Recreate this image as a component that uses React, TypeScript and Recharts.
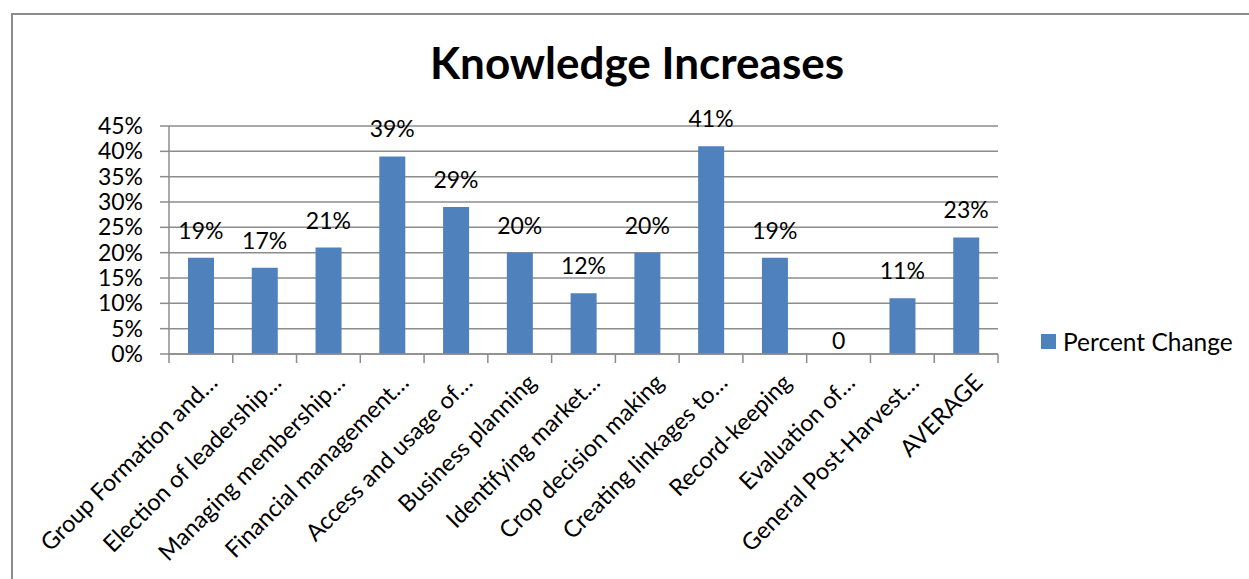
import React from 'react';
import { ComposedChart, Bar, Line, XAxis, YAxis, CartesianGrid, LabelList } from 'recharts';

const categories = [
  'Group Formation and…',
  'Election of leadership…',
  'Managing membership…',
  'Financial management…',
  'Access and usage of…',
  'Business planning',
  'Identifying market…',
  'Crop decision making',
  'Creating linkages to…',
  'Record-keeping',
  'Evaluation of…',
  'General Post-Harvest…',
  'AVERAGE',
];

const percentChange = [19, 17, 21, 39, 29, 20, 12, 20, 41, 19, 0, 11, 23];

const yTicks = [0, 5, 10, 15, 20, 25, 30, 35, 40, 45];

const data = categories.map((name, i) => ({ name, value: percentChange[i] }));

const W = 1249;
const H = 579;
const M = { top: 126, right: 251, left: 0, bottom: 0 };
const Y_W = 169;
const X_H = 225;
const PLOT_W = W - M.left - M.right - Y_W;
const BAND = PLOT_W / categories.length;

const FONT = 'Lato, "Open Sans", sans-serif';
const GRID = '#8c8c8c';
const BAR = '#4f81bd';

// category tick: rotated label plus tick marks on band edges
function CatTick(props: any) {
  const { x, y, payload, index } = props;
  const axisY = y - 10;
  const left = x - BAND / 2;
  const right = x + BAND / 2;
  const lx = x + 18;
  const ly = axisY + 30;
  return (
    <g>
      <line x1={left} y1={axisY} x2={left} y2={axisY + 9} stroke={GRID} strokeWidth={1.5} />
      {index === categories.length - 1 && (
        <line x1={right} y1={axisY} x2={right} y2={axisY + 9} stroke={GRID} strokeWidth={1.5} />
      )}
      <text
        x={lx}
        y={ly}
        transform={`rotate(-45, ${lx}, ${ly})`}
        textAnchor="end"
        fontSize={23.5}
        fill="#000"
        fontFamily={FONT}
      >
        {payload.value}
      </text>
    </g>
  );
}

// value labels sit above the bar top (point of an invisible line)
function ValueLabel(props: any) {
  const { x, y, value } = props;
  const isZero = value === 0;
  return (
    <text
      x={x}
      y={isZero ? y - 5 : y - 19}
      textAnchor="middle"
      fontSize={23}
      fill="#000"
      fontFamily={FONT}
    >
      {isZero ? '0' : `${value}%`}
    </text>
  );
}

export default function App() {
  return (
    <div
      style={{
        position: 'absolute',
        left: 0,
        top: 0,
        width: W,
        height: H,
        background: '#fff',
        fontFamily: FONT,
        overflow: 'hidden',
      }}
    >
      {/* frame */}
      <div
        style={{
          position: 'absolute',
          left: 11,
          top: 13,
          width: W,
          height: H,
          borderLeft: `2px solid ${GRID}`,
          borderTop: `2px solid ${GRID}`,
        }}
      />
      <div
        style={{
          position: 'absolute',
          left: 0,
          width: 1274,
          top: 36,
          textAlign: 'center',
          fontSize: 44,
          fontWeight: 700,
          color: '#000',
        }}
      >
        Knowledge Increases
      </div>
      <div style={{ position: 'absolute', left: 0, top: 0 }}>
        <ComposedChart width={W} height={H} data={data} margin={M}>
          <CartesianGrid horizontal vertical={false} stroke={GRID} strokeWidth={1.5} />
          <XAxis
            dataKey="name"
            height={X_H}
            interval={0}
            axisLine={{ stroke: GRID, strokeWidth: 1.5 }}
            tickLine={false}
            tick={<CatTick />}
            tickSize={0}
            tickMargin={10}
          />
          <YAxis
            width={Y_W}
            domain={[0, 45]}
            ticks={yTicks}
            interval={0}
            tickFormatter={(v: number) => `${v}%`}
            axisLine={{ stroke: GRID, strokeWidth: 1.5 }}
            tickLine={{ stroke: GRID, strokeWidth: 1.5 }}
            tickSize={9}
            tickMargin={17}
            tick={{ fontSize: 23, fill: '#000', fontFamily: FONT }}
          />
          <Bar dataKey="value" fill={BAR} barSize={26} isAnimationActive={false} />
          <Line
            dataKey="value"
            stroke="none"
            dot={false}
            activeDot={false}
            legendType="none"
            isAnimationActive={false}
          >
            <LabelList dataKey="value" content={<ValueLabel />} />
          </Line>
        </ComposedChart>
      </div>
      {/* legend */}
      <div
        style={{
          position: 'absolute',
          left: 1041,
          top: 327,
          display: 'flex',
          alignItems: 'center',
          fontSize: 24.5,
          color: '#000',
          whiteSpace: 'nowrap',
        }}
      >
        <span style={{ display: 'inline-block', width: 15, height: 15, background: BAR, marginRight: 7 }} />
        Percent Change
      </div>
    </div>
  );
}
